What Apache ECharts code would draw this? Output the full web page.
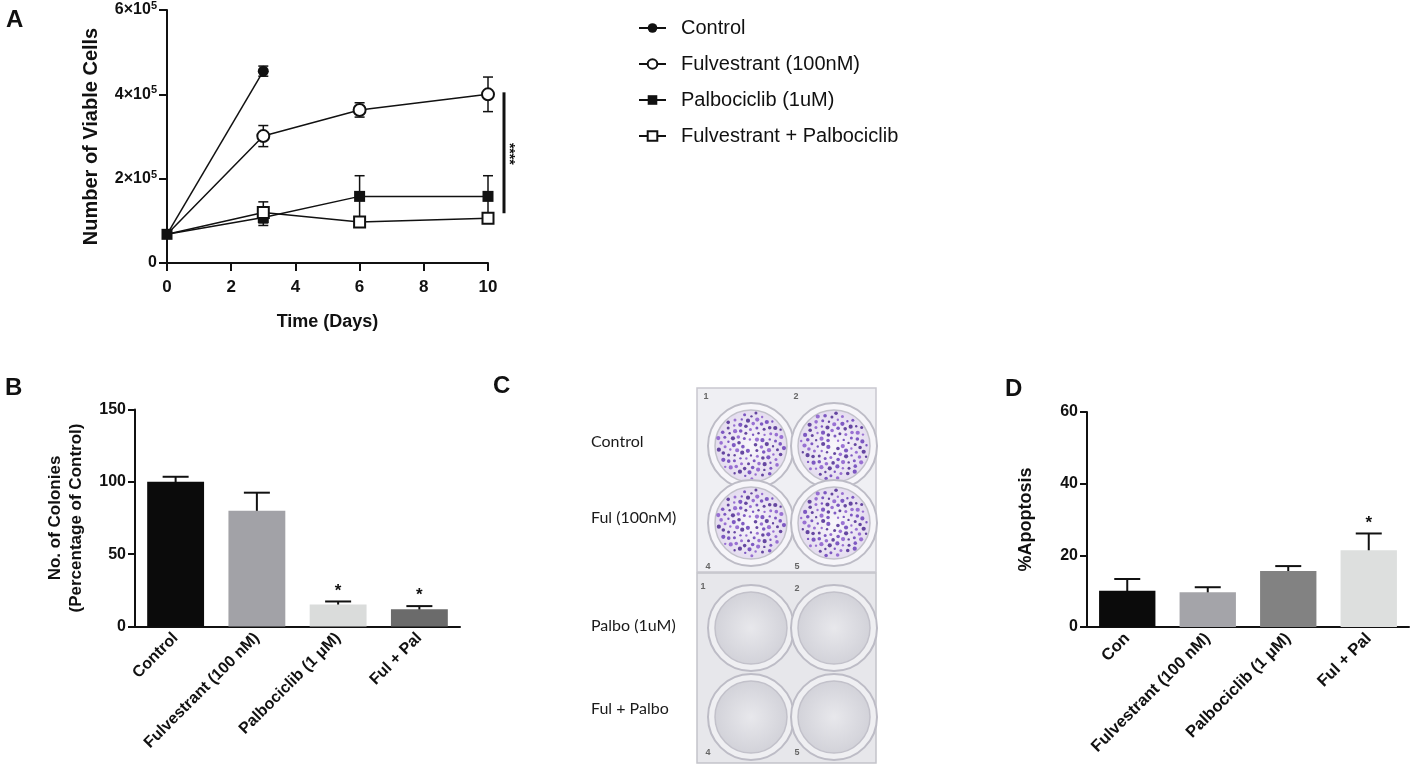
<!DOCTYPE html>
<html>
<head>
<meta charset="utf-8">
<script src="https://cdn.jsdelivr.net/npm/echarts@6/dist/echarts.min.js"></script>
<style>
  html, body { margin: 0; padding: 0; background: #fff; }
  #main { width: 1410px; height: 764px; }
</style>
</head>
<body>
<div id="main"></div>
<script>
// Panel A - growth curve
var days = [0, 3, 6, 10];
var controlDays = [0, 3];
var controlMean = [68000, 455000];
var controlErr = [0, 12000];
var fulvMean = [68000, 301000, 363000, 400000];
var fulvErr = [0, 25000, 17000, 41000];
var palboMean = [68000, 108000, 158000, 158000];
var palboErr = [0, 19000, 49000, 49000];
var comboMean = [68000, 120000, 97000, 106000];
var comboErr = [0, 25000, 4000, 6000];

// Panel B - colony formation
var colonyCats = ['Control', 'Fulvestrant (100 nM)', 'Palbociclib (1 \u03bcM)', 'Ful + Pal'];
var colonyMean = [100, 80, 15.2, 12];
var colonyErr = [3.5, 12.5, 2.1, 2.1];
var colonySig = ['', '', '*', '*'];
var colonyColors = ['#0b0b0b', '#a2a2a7', '#dadcdb', '#6b6b6b'];

// Panel D - apoptosis
var apopCats = ['Con', 'Fulvestrant (100 nM)', 'Palbociclib (1 \u03bcM)', 'Ful + Pal'];
var apopMean = [10.1, 9.7, 15.6, 21.4];
var apopErr = [3.3, 1.4, 1.4, 4.7];
var apopSig = ['', '', '', '*'];
var apopColors = ['#0b0b0b', '#a4a4a9', '#828282', '#dddfde'];

// Panel C - plate labels
var plateLabels = ['Control', 'Ful (100nM)', 'Palbo (1uM)', 'Ful + Palbo'];

var FONT = '"Liberation Sans", Arial, Helvetica, sans-serif';
var INK = '#111';

var chart = echarts.init(document.getElementById('main'), null, { renderer: 'canvas' });

function pairs(xs, ys) {
    var out = [];
    for (var i = 0; i < xs.length; i++) out.push([xs[i], ys[i]]);
    return out;
}
function triples(xs, ys, es) {
    var out = [];
    for (var i = 0; i < xs.length; i++) out.push([xs[i], ys[i], es[i]]);
    return out;
}
// the shared starting point is drawn once, as the filled square (Palbociclib)
function hideFirst(xs, ys) {
    var d = pairs(xs, ys);
    d[0] = { value: d[0], symbol: 'none' };
    return d;
}

// symmetric error bars for the line chart
function lineErrRender(params, api) {
    var x = api.value(0), y = api.value(1), e = api.value(2);
    if (!e) return null;
    var hi = api.coord([x, y + e]);
    var lo = api.coord([x, y - e]);
    var w = 5;
    var st = { stroke: INK, lineWidth: 1.5 };
    return {
        type: 'group',
        children: [
            { type: 'line', shape: { x1: hi[0], y1: hi[1], x2: lo[0], y2: lo[1] }, style: st },
            { type: 'line', shape: { x1: hi[0] - w, y1: hi[1], x2: hi[0] + w, y2: hi[1] }, style: st },
            { type: 'line', shape: { x1: lo[0] - w, y1: lo[1], x2: lo[0] + w, y2: lo[1] }, style: st }
        ]
    };
}

// upward error bars + significance star for the bar charts
function barErrRender(sig) {
    return function(params, api) {
        var i = api.value(0), y = api.value(1), e = api.value(2);
        var base = api.coord([i, y]);
        var top = api.coord([i, y + e]);
        var w = 13;
        var st = { stroke: INK, lineWidth: 2 };
        var kids = [
            { type: 'line', shape: { x1: base[0], y1: base[1] + 1, x2: top[0], y2: top[1] }, style: st },
            { type: 'line', shape: { x1: top[0] - w, y1: top[1], x2: top[0] + w, y2: top[1] }, style: st }
        ];
        if (sig[params.dataIndex]) {
            kids.push({
                type: 'text',
                style: { text: sig[params.dataIndex], x: top[0], y: top[1] - 2, align: 'center', verticalAlign: 'bottom',
                    font: 'bold 17px ' + FONT, fill: INK }
            });
        }
        return { type: 'group', children: kids };
    };
}

function catXAxis(gridIndex, cats, fs) {
    return {
        type: 'category', gridIndex: gridIndex, data: cats,
        axisLine: { lineStyle: { color: INK, width: 2 } },
        axisTick: { alignWithLabel: true, length: 7, lineStyle: { color: INK, width: 2 } },
        axisLabel: { rotate: 45, margin: 9, color: INK, fontFamily: FONT, fontWeight: 'bold', fontSize: fs }
    };
}
function valYAxis(gridIndex, max, interval, name, nameGap, nameSize) {
    return {
        type: 'value', gridIndex: gridIndex, min: 0, max: max, interval: interval,
        name: name, nameLocation: 'middle', nameRotate: 90, nameGap: nameGap,
        nameTextStyle: { color: INK, fontFamily: FONT, fontWeight: 'bold', fontSize: nameSize, lineHeight: nameSize + 4 },
        splitLine: { show: false },
        axisLine: { show: true, lineStyle: { color: INK, width: 2 } },
        axisTick: { show: true, length: 7, lineStyle: { color: INK, width: 2 } },
        axisLabel: { margin: 9, color: INK, fontFamily: FONT, fontWeight: 'bold', fontSize: 16 }
    };
}

var option = {
    animation: false,
    backgroundColor: '#fff',
    textStyle: { fontFamily: FONT },
    grid: [
        { left: 167, top: 10, width: 321, height: 253, outerBoundsMode: 'none' },
        { left: 135, top: 409.5, width: 325, height: 217, outerBoundsMode: 'none' },
        { left: 1087, top: 412, width: 322, height: 215, outerBoundsMode: 'none' }
    ],
    legend: {
        data: ['Control', 'Fulvestrant (100nM)', 'Palbociclib (1uM)', 'Fulvestrant + Palbociclib'],
        orient: 'vertical', left: 633, top: 13,
        itemWidth: 27, itemHeight: 12, itemGap: 16,
        textStyle: { color: INK, fontFamily: FONT, fontSize: 20, lineHeight: 20, padding: [0, 0, 0, 10] }
    },
    xAxis: [
        {
            type: 'value', gridIndex: 0, min: 0, max: 10, interval: 2,
            name: 'Time (Days)', nameLocation: 'middle', nameGap: 50,
            nameTextStyle: { color: INK, fontFamily: FONT, fontWeight: 'bold', fontSize: 18 },
            splitLine: { show: false },
            axisLine: { lineStyle: { color: INK, width: 2 } },
            axisTick: { length: 8, lineStyle: { color: INK, width: 2 } },
            axisLabel: { margin: 16, color: INK, fontFamily: FONT, fontWeight: 'bold', fontSize: 17 }
        },
        catXAxis(1, colonyCats, 16),
        catXAxis(2, apopCats, 16.5)
    ],
    yAxis: [
        {
            type: 'value', gridIndex: 0, min: 0, max: 600000, interval: 200000,
            name: 'Number of Viable Cells', nameLocation: 'middle', nameRotate: 90, nameGap: 66,
            nameTextStyle: { color: INK, fontFamily: FONT, fontWeight: 'bold', fontSize: 20 },
            splitLine: { show: false },
            axisLine: { show: true, lineStyle: { color: INK, width: 2 } },
            axisTick: { show: true, length: 8, lineStyle: { color: INK, width: 2 } },
            axisLabel: {
                margin: 10, color: INK, fontFamily: FONT, fontWeight: 'bold', fontSize: 16,
                formatter: function(v) {
                    if (v === 0) return '0';
                    return '{b|' + (v / 100000) + '\u00d710}{s|5}';
                },
                rich: {
                    b: { fontFamily: FONT, fontWeight: 'bold', fontSize: 16, color: INK },
                    s: { fontFamily: FONT, fontWeight: 'bold', fontSize: 11, color: INK, verticalAlign: 'top', padding: [0, 0, 8, 0] }
                }
            }
        },
        valYAxis(1, 150, 50, 'No. of Colonies\n(Percentage of Control)', 48, 17),
        valYAxis(2, 60, 20, '%Apoptosis', 50, 18)
    ],
    series: [
        { type: 'custom', name: 'errA1', xAxisIndex: 0, yAxisIndex: 0, z: 1, renderItem: lineErrRender, data: triples(controlDays, controlMean, controlErr) },
        { type: 'custom', name: 'errA2', xAxisIndex: 0, yAxisIndex: 0, z: 1, renderItem: lineErrRender, data: triples(days, fulvMean, fulvErr) },
        { type: 'custom', name: 'errA3', xAxisIndex: 0, yAxisIndex: 0, z: 1, renderItem: lineErrRender, data: triples(days, palboMean, palboErr) },
        { type: 'custom', name: 'errA4', xAxisIndex: 0, yAxisIndex: 0, z: 1, renderItem: lineErrRender, data: triples(days, comboMean, comboErr) },
        {
            type: 'line', name: 'Control', xAxisIndex: 0, yAxisIndex: 0, z: 3,
            data: hideFirst(controlDays, controlMean), symbol: 'circle', symbolSize: 11, showAllSymbol: true,
            lineStyle: { color: INK, width: 1.5 }, itemStyle: { color: INK }
        },
        {
            type: 'line', name: 'Fulvestrant (100nM)', xAxisIndex: 0, yAxisIndex: 0, z: 3,
            data: hideFirst(days, fulvMean), symbol: 'emptyCircle', symbolSize: 12, showAllSymbol: true,
            lineStyle: { color: INK, width: 1.5 }, itemStyle: { color: INK, borderWidth: 2 }
        },
        {
            type: 'line', name: 'Palbociclib (1uM)', xAxisIndex: 0, yAxisIndex: 0, z: 3,
            data: pairs(days, palboMean), symbol: 'rect', symbolSize: 11,
            lineStyle: { color: INK, width: 1.5 }, itemStyle: { color: INK }
        },
        {
            type: 'line', name: 'Fulvestrant + Palbociclib', xAxisIndex: 0, yAxisIndex: 0, z: 3,
            data: hideFirst(days, comboMean), symbol: 'emptyRect', symbolSize: 11, showAllSymbol: true,
            lineStyle: { color: INK, width: 1.5 }, itemStyle: { color: INK, borderWidth: 2 }
        },
        {
            type: 'bar', xAxisIndex: 1, yAxisIndex: 1, barWidth: '70%', z: 2,
            data: colonyMean.map(function(v, i) { return { value: v, itemStyle: { color: colonyColors[i] } }; })
        },
        { type: 'custom', xAxisIndex: 1, yAxisIndex: 1, z: 1, renderItem: barErrRender(colonySig), data: triples([0, 1, 2, 3], colonyMean, colonyErr) },
        {
            type: 'bar', xAxisIndex: 2, yAxisIndex: 2, barWidth: '70%', z: 2,
            data: apopMean.map(function(v, i) { return { value: v, itemStyle: { color: apopColors[i] } }; })
        },
        { type: 'custom', xAxisIndex: 2, yAxisIndex: 2, z: 1, renderItem: barErrRender(apopSig), data: triples([0, 1, 2, 3], apopMean, apopErr) }
    ]
};

chart.setOption(option);

// ---- graphic overlay: panel letters, significance bar, plate photo sketch ----
var g = [];
function letter(t, x, y) {
    g.push({ type: 'text', left: x, top: y, style: { text: t, font: 'bold 24px ' + FONT, fill: INK } });
}
letter('A', 6, 8);
letter('B', 5, 376);
letter('C', 493, 374);
letter('D', 1005, 377);

// significance bar beside panel A
var p1 = chart.convertToPixel({ gridIndex: 0 }, [10, 400000]);
var p2 = chart.convertToPixel({ gridIndex: 0 }, [10, 118000]);
var sx = p1[0] + 16;
g.push({ type: 'line', shape: { x1: sx, y1: p1[1] - 2, x2: sx, y2: p2[1] }, style: { stroke: INK, lineWidth: 3 } });
g.push({
    type: 'text', x: sx + 5, y: (p1[1] + p2[1]) / 2, rotation: -Math.PI / 2,
    style: { text: '****', font: 'bold 14px ' + FONT, fill: INK, align: 'center', verticalAlign: 'middle' }
});

// plate labels
var labelY = [442, 518, 626, 709];
for (var i = 0; i < plateLabels.length; i++) {
    g.push({ type: 'text', x: 591, y: labelY[i],
        style: { text: plateLabels[i], font: '16px Lato, "Open Sans", sans-serif', fill: '#1a1a1a', verticalAlign: 'middle' } });
}

// plates
g.push({ type: 'rect', shape: { x: 697, y: 388, width: 179, height: 184 },
    style: { fill: '#efeff3', stroke: '#c9c8d0', lineWidth: 1.5 } });
g.push({ type: 'rect', shape: { x: 697, y: 573, width: 179, height: 190 },
    style: { fill: '#e7e7eb', stroke: '#c4c4ca', lineWidth: 1.5 } });

var wellX = [751, 834];
var topWellY = [446, 523];
var botWellY = [628, 717];

function well(cx, cy, stained) {
    g.push({ type: 'circle', shape: { cx: cx, cy: cy, r: 43 },
        style: { fill: stained ? '#f6f5f9' : '#efeff2', stroke: '#bdbcc6', lineWidth: 2 } });
    g.push({ type: 'circle', shape: { cx: cx, cy: cy, r: 36 },
        style: {
            fill: {
                type: 'radial', x: 0.5, y: 0.5, r: 0.5,
                colorStops: stained
                    ? [{ offset: 0, color: '#f8f6fb' }, { offset: 1, color: '#e4dcef' }]
                    : [{ offset: 0, color: '#e8e8ec' }, { offset: 1, color: '#d2d2d9' }]
            },
            stroke: '#c2c1ca', lineWidth: 1.5
        } });
    if (!stained) return;
    // colony texture (sunflower arrangement)
    var n = 105;
    var shades = ['#6a3fb8', '#8a5ccc', '#4e2a92'];
    for (var k = 2; k < n; k++) {
        var rr = 34 * Math.sqrt(k / n);
        var th = k * 2.39996 + cx * 0.01;
        g.push({ type: 'circle', silent: true,
            shape: { cx: cx + rr * Math.cos(th), cy: cy + rr * Math.sin(th), r: 1.2 + (k % 4) * 0.3 },
            style: { fill: shades[k % 3], opacity: 0.85 } });
    }
}
for (var a = 0; a < 2; a++) {
    for (var b = 0; b < 2; b++) {
        well(wellX[b], topWellY[a], true);
        well(wellX[b], botWellY[a], false);
    }
}
var nums = [['1', 706, 397], ['2', 796, 397], ['4', 708, 567], ['5', 797, 567],
            ['1', 703, 587], ['2', 797, 589], ['4', 708, 753], ['5', 797, 753]];
nums.forEach(function(n) {
    g.push({ type: 'text', x: n[1], y: n[2],
        style: { text: n[0], font: 'bold 9px ' + FONT, fill: '#666', align: 'center', verticalAlign: 'middle' } });
});

chart.setOption({ graphic: g });
</script>
</body>
</html>
